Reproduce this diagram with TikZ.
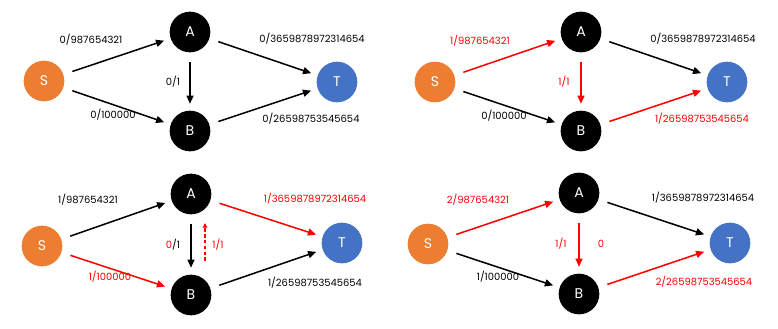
\documentclass[tikz,border=0pt]{standalone}
\usepackage{fontspec}
\setmainfont{Poppins}
\usepackage{xcolor}
\usetikzlibrary{arrows.meta}
\definecolor{srcorange}{HTML}{ED7D31}
\definecolor{sinkblue}{HTML}{4472C4}
\definecolor{flowred}{HTML}{FF0000}
\tikzset{
  vertex/.style={circle, minimum size=1.22cm, inner sep=0pt, text=white, font=\fontsize{12}{14}\selectfont},
  src/.style={vertex, fill=srcorange},
  mid/.style={vertex, fill=black},
  sink/.style={vertex, fill=sinkblue},
  flow/.style={-{Triangle[length=7pt,width=6pt]}, line width=1.3pt, shorten <=0.28cm, shorten >=0.2cm},
  aug/.style={flow, draw=flowred},
  resid/.style={-{Triangle[length=4pt,width=4pt]}, dash pattern=on 3pt off 2pt, line width=1pt, draw=flowred, fill=flowred},
  flowlabel/.style={font=\fontsize{8.5}{10}\selectfont, inner sep=1pt},
  redlabel/.style={flowlabel, text=flowred}
}
\begin{document}
\begin{tikzpicture}[x=0.03cm, y=-0.03cm]
\useasboundingbox (0,0) rectangle (778,328);
% panel 1: start
\node[src]  (s1) at (44,81)  {S};
\node[mid]  (a1) at (190,32) {A};
\node[mid]  (b1) at (190,131) {B};
\node[sink] (t1) at (337,82) {T};
\draw[flow] (s1) -- (a1);
\draw[flow] (s1) -- (b1);
\draw[flow] (a1) -- (b1);
\draw[flow] (a1) -- (t1);
\draw[flow] (b1) -- (t1);
\node[flowlabel] (c1sa) at (91,40)  {0/987654321};
\node[flowlabel] (c1sb) at (113,115) {0/100000};
\node[flowlabel] (c1ab) at (173,82) {0/1};
\node[flowlabel] (c1at) at (312,39) {0/3659878972314654};
\node[flowlabel] (c1bt) at (311,119) {0/26598753545654};
% panel 2: path S-A-B-T
\node[src]  (s2) at (435,82)  {S};
\node[mid]  (a2) at (581,32) {A};
\node[mid]  (b2) at (581,131) {B};
\node[sink] (t2) at (727,82) {T};
\draw[aug]  (s2) -- (a2);
\draw[flow] (s2) -- (b2);
\draw[aug]  (a2) -- (b2);
\draw[flow] (a2) -- (t2);
\draw[aug]  (b2) -- (t2);
\node[redlabel]  (c2sa) at (480,41)  {1/987654321};
\node[flowlabel] (c2sb) at (504,116) {0/100000};
\node[redlabel]  (c2ab) at (564,82) {1/1};
\node[flowlabel] (c2at) at (703,39) {0/3659878972314654};
\node[redlabel]  (c2bt) at (702,119) {1/26598753545654};
% panel 3: path S-B-A-T
\node[src]  (s3) at (42,246)  {S};
\node[mid]  (a3) at (191,194) {A};
\node[mid]  (b3) at (191,295) {B};
\node[sink] (t3) at (342,243) {T};
\draw[flow] (s3) -- (a3);
\draw[aug]  (s3) -- (b3);
\draw[flow] (a3) -- (b3);
\draw[aug]  (a3) -- (t3);
\draw[flow] (b3) -- (t3);
\coordinate (r3lo) at (205,261);
\coordinate (r3hi) at (205,223);
\draw[resid] (r3lo) -- (r3hi);
\node[flowlabel] (c3sa) at (88,200)  {1/987654321};
\node[redlabel]  (c3sb) at (110,277) {1/100000};
\node[flowlabel] (c3ab) at (173,245) {\textcolor{flowred}{0}/1};
\node[redlabel]  (c3ba) at (218,245) {1/1};
\node[redlabel]  (c3at) at (315,199) {1/3659878972314654};
\node[flowlabel] (c3bt) at (315,283) {1/26598753545654};
% panel 4: path S-A-B-T again
\node[src]  (s4) at (428,244)  {S};
\node[mid]  (a4) at (579,193) {A};
\node[mid]  (b4) at (579,294) {B};
\node[sink] (t4) at (730,243) {T};
\draw[aug]  (s4) -- (a4);
\draw[flow] (s4) -- (b4);
\draw[aug]  (a4) -- (b4);
\draw[flow] (a4) -- (t4);
\draw[aug]  (b4) -- (t4);
\node[redlabel]  (c4sa) at (478,200)  {2/987654321};
\node[flowlabel] (c4sb) at (498,277) {1/100000};
\node[redlabel]  (c4ab) at (561,244) {1/1};
\node[redlabel]  (c4ba) at (601,244) {0};
\node[flowlabel] (c4at) at (703,198) {1/3659878972314654};
\node[redlabel]  (c4bt) at (704,282) {2/26598753545654};
\end{tikzpicture}
\end{document}
